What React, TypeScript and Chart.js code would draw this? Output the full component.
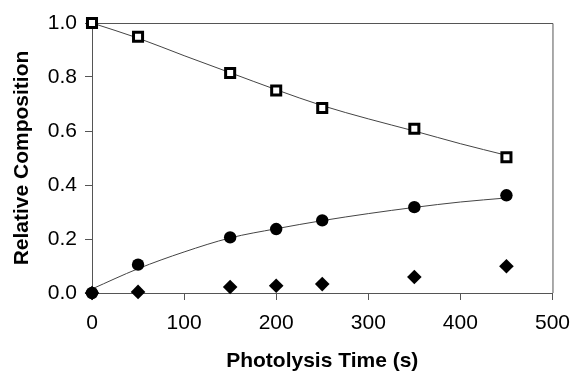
import React, { useEffect, useRef } from "react";
import { Chart, registerables } from "chart.js";

Chart.register(...registerables);

// Measured data
const timeS = [0, 50, 150, 200, 250, 350, 450];
const reactant = [1.0, 0.949, 0.815, 0.75, 0.685, 0.608, 0.503];
const productA = [0.0, 0.105, 0.206, 0.237, 0.269, 0.318, 0.362];
const productB = [0.0, 0.004, 0.022, 0.027, 0.033, 0.059, 0.099];

// Fitted curves
const fitTime = [0, 50, 100, 150, 200, 250, 300, 350, 400, 450];
const reactantFit = [1.0, 0.944, 0.879, 0.816, 0.753, 0.694, 0.645, 0.6, 0.553, 0.51];
const productAFit = [0.015, 0.09, 0.152, 0.204, 0.238, 0.268, 0.294, 0.317, 0.337, 0.352];

// Axis ticks
const xTicks = [0, 100, 200, 300, 400, 500];
const yTicks = [0, 0.2, 0.4, 0.6, 0.8, 1.0];

const FONT = "Arial, 'Liberation Sans', sans-serif";
const AXIS = "#555555";

const pts = (xs: number[], ys: number[]) => xs.map((x, i) => ({ x, y: ys[i] }));

const boxPlugin = {
  id: "box",
  beforeDatasetsDraw(chart: any) {
    const { ctx, chartArea } = chart;
    ctx.save();
    ctx.strokeStyle = AXIS;
    ctx.lineWidth = 1;
    ctx.beginPath();
    ctx.moveTo(chartArea.left, chartArea.top + 0.5);
    ctx.lineTo(chartArea.right + 0.5, chartArea.top + 0.5);
    ctx.lineTo(chartArea.right + 0.5, chartArea.bottom);
    ctx.stroke();
    ctx.restore();
  },
};

export default function App() {
  const ref = useRef<HTMLCanvasElement | null>(null);
  useEffect(() => {
    if (!ref.current) return;
    const chart = new Chart(ref.current, {
      type: "scatter",
      data: {
        datasets: [
          {
            label: "A",
            data: pts(timeS, productA),
            pointStyle: "circle",
            pointRadius: 6.2,
            backgroundColor: "#000",
            borderColor: "#000",
            borderWidth: 0,
            showLine: false,
            clip: false,
          },
          {
            label: "R",
            data: pts(timeS, reactant),
            pointStyle: "rect",
            pointRadius: 6.4,
            backgroundColor: "#fff",
            borderColor: "#000",
            borderWidth: 3,
            showLine: false,
            clip: false,
          },
          {
            label: "B",
            data: pts(timeS, productB),
            pointStyle: "rectRot",
            pointRadius: 7.3,
            backgroundColor: "#000",
            borderColor: "#000",
            borderWidth: 0,
            showLine: false,
            clip: false,
          },
          {
            label: "Rfit",
            data: pts(fitTime, reactantFit),
            showLine: true,
            pointRadius: 0,
            borderColor: "#444",
            borderWidth: 1,
            cubicInterpolationMode: "monotone",
            clip: false,
          },
          {
            label: "Afit",
            data: pts(fitTime, productAFit),
            showLine: true,
            pointRadius: 0,
            borderColor: "#444",
            borderWidth: 1,
            cubicInterpolationMode: "monotone",
            clip: false,
          },
        ] as any,
      },
      options: {
        animation: false,
        responsive: false,
        maintainAspectRatio: false,
        layout: { padding: { top: 23, right: 22, left: 0, bottom: 0 } },
        plugins: { legend: { display: false }, tooltip: { enabled: false } },
        scales: {
          x: {
            type: "linear",
            min: 0,
            max: 500,
            afterBuildTicks: (s: any) => {
              s.ticks = xTicks.map((v) => ({ value: v }));
            },
            afterFit: (s: any) => {
              s.height = 79;
            },
            grid: { drawOnChartArea: false, drawTicks: true, tickLength: 7, color: AXIS },
            border: { color: AXIS, width: 1 },
            ticks: {
              color: "#000",
              font: { family: FONT, size: 21 },
              padding: 11,
              maxRotation: 0,
              callback: (v: any) => String(v),
            },
            title: {
              display: true,
              text: "Photolysis Time (s)",
              color: "#000",
              font: { family: FONT, size: 21, weight: "bold" },
              padding: { top: 0, bottom: -2 },
            },
          },
          y: {
            type: "linear",
            min: 0,
            max: 1,
            afterBuildTicks: (s: any) => {
              s.ticks = yTicks.map((v) => ({ value: v }));
            },
            afterFit: (s: any) => {
              s.width = 92;
            },
            grid: { drawOnChartArea: false, drawTicks: true, tickLength: 7, color: AXIS },
            border: { color: AXIS, width: 1 },
            ticks: {
              color: "#000",
              font: { family: FONT, size: 21 },
              padding: 8,
              callback: (v: any) => Number(v).toFixed(1),
            },
            title: {
              display: true,
              text: "Relative Composition",
              color: "#000",
              font: { family: FONT, size: 21, weight: "bold" },
              padding: { top: 10, bottom: 0 },
            },
          },
        },
      } as any,
      plugins: [boxPlugin],
    });
    return () => chart.destroy();
  }, []);
  return (
    <div style={{ position: "fixed", left: 0, top: 0, width: 581, height: 372, background: "#fff" }}>
      <canvas ref={ref} width={581} height={372} style={{ width: 581, height: 372 }} />
    </div>
  );
}
